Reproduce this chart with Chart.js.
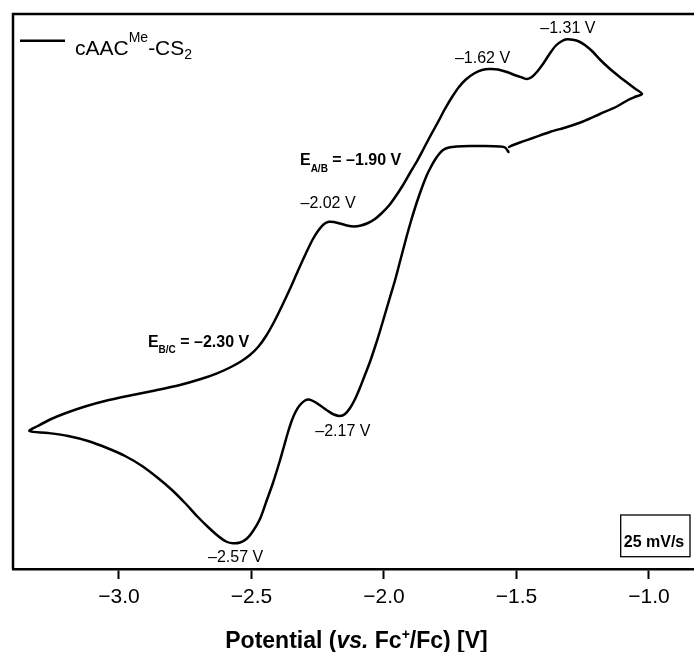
<!DOCTYPE html>
<html><head><meta charset="utf-8">
<script src="https://cdn.jsdelivr.net/npm/chart.js@4"></script>
<style>html,body{margin:0;padding:0;background:#fff}#wrap{width:694px;height:652px;position:relative}</style>
</head><body><div id="wrap"><canvas id="c" width="694" height="652"></canvas></div>
<script>
// Cyclic voltammogram of cAAC^Me-CS2, potential vs Fc+/Fc (V), current (arbitrary units, anodic up)
const potential = [
 -1.530,-1.543,-1.562,-1.626,-1.675,-1.725,-1.755,-1.777,-1.792,-1.808,-1.823,-1.838,-1.853,-1.868,-1.883,-1.898,-1.913,-1.928,-1.943,-1.958,-1.977,-1.996,-2.015,-2.034,-2.053,-2.072,-2.091,-2.109,-2.128,-2.147,-2.166,-2.189,-2.211,-2.238,-2.264,-2.283,-2.298,-2.317,-2.332,-2.347,-2.362,-2.377,-2.392,-2.419,-2.442,-2.468,-2.494,-2.517,-2.543,-2.570,-2.596,-2.626,-2.664,-2.706,-2.751,-2.800,-2.853,-2.913,-2.977,-3.045,-3.117,-3.192,-3.268,-3.338,
 -3.306,-3.260,-3.200,-3.128,-3.053,-2.958,-2.864,-2.770,-2.694,-2.630,-2.581,-2.540,-2.506,-2.475,-2.445,-2.415,-2.385,-2.355,-2.325,-2.294,-2.268,-2.245,-2.226,-2.208,-2.189,-2.166,-2.140,-2.113,-2.087,-2.060,-2.034,-2.008,-1.981,-1.955,-1.928,-1.902,-1.875,-1.849,-1.823,-1.796,-1.770,-1.743,-1.717,-1.691,-1.660,-1.630,-1.600,-1.570,-1.536,-1.502,-1.479,-1.460,-1.442,-1.423,-1.400,-1.374,-1.351,-1.328,-1.309,-1.287,-1.264,-1.242,-1.215,-1.185,-1.151,-1.117,-1.083,-1.053,-1.026,
 -1.049,-1.079,-1.121,-1.185,-1.249,-1.309,-1.374,-1.438,-1.487,-1.517,-1.528
];
const current = [
 14.8,15.25,15.35,15.4,15.4,15.35,15.25,15.0,14.6,14.0,13.3,12.5,11.5,10.4,9.2,7.9,6.5,5.0,3.5,2.0,0.3,-1.4,-3.1,-4.7,-6.2,-7.5,-8.8,-9.9,-10.8,-11.4,-11.6,-11.45,-11.1,-10.6,-10.15,-9.95,-10.05,-10.5,-11.1,-12.0,-13.2,-14.6,-16.0,-18.3,-20.0,-21.9,-23.1,-23.85,-24.25,-24.33,-24.15,-23.6,-22.7,-21.6,-20.3,-19.0,-17.8,-16.6,-15.6,-14.8,-14.1,-13.6,-13.3,-13.1,
 -12.6,-11.95,-11.3,-10.65,-10.1,-9.55,-9.05,-8.5,-7.93,-7.33,-6.75,-6.15,-5.5,-4.7,-3.6,-2.2,-0.6,1.1,2.9,4.7,6.1,7.05,7.6,7.82,7.8,7.65,7.45,7.35,7.45,7.7,8.1,8.7,9.45,10.4,11.5,12.7,13.9,15.2,16.5,17.8,19.1,20.3,21.3,22.05,22.65,23.0,23.1,23.05,22.8,22.45,22.25,22.1,22.3,22.8,23.6,24.65,25.45,25.9,26.07,26.02,25.85,25.5,24.9,24.05,23.2,22.45,21.75,21.15,20.6,
 20.35,20.0,19.35,18.6,17.85,17.3,16.8,16.2,15.75,15.45,15.3
];
const tickValues = [-3.0, -2.5, -2.0, -1.5, -1.0];
const tickLabels = ['\u22123.0', '\u22122.5', '\u22122.0', '\u22121.5', '\u22121.0'];
const peakLabels = ['\u20131.31 V', '\u20131.62 V', '\u20132.02 V', '\u20132.17 V', '\u20132.57 V'];
const peakX = [-1.306, -1.628, -2.211, -2.155, -2.560];
const peakY = [26.67, 23.67, 9.2, -13.6, -26.23];
const halfWaveNames = ['A/B', 'B/C'];
const halfWaveValues = [' = \u20131.90 V', ' = \u20132.30 V'];
const halfWaveX = [-2.317, -2.891];
const halfWaveY = [13.5, -4.67];
const scanRate = '25 mV/s';

const FONT = '"Liberation Sans", Arial, Helvetica, sans-serif';

function drawRich(ctx, segs, x, y, align) {
  let w = 0;
  segs.forEach(s => { ctx.font = s.font; w += ctx.measureText(s.t).width; });
  let cx = align === 'center' ? x - w / 2 : x;
  ctx.textAlign = 'left';
  ctx.textBaseline = 'alphabetic';
  segs.forEach(s => {
    ctx.font = s.font;
    ctx.fillText(s.t, cx, y + (s.dy || 0));
    cx += ctx.measureText(s.t).width;
  });
}

const overlay = {
  id: 'overlay',
  afterDraw(chart) {
    const { ctx, chartArea: a, scales: { x, y } } = chart;
    ctx.save();
    ctx.strokeStyle = '#000';
    ctx.fillStyle = '#000';
    // frame: left and top
    ctx.lineWidth = 2.5;
    ctx.beginPath();
    ctx.moveTo(a.left, a.bottom);
    ctx.lineTo(a.left, a.top);
    ctx.lineTo(a.right + 2, a.top);
    ctx.stroke();
    // legend
    ctx.beginPath();
    ctx.moveTo(a.left + 7, a.top + 26.7);
    ctx.lineTo(a.left + 52, a.top + 26.7);
    ctx.stroke();
    drawRich(ctx, [
      { t: 'cAAC', font: '21px ' + FONT },
      { t: 'Me', font: '14px ' + FONT, dy: -13 },
      { t: '-CS', font: '21px ' + FONT },
      { t: '2', font: '14px ' + FONT, dy: 4 }
    ], a.left + 62, a.top + 41, 'left');
    // peak labels
    ctx.font = '16px ' + FONT;
    ctx.textAlign = 'center';
    ctx.textBaseline = 'alphabetic';
    peakLabels.forEach((t, i) => ctx.fillText(t, x.getPixelForValue(peakX[i]), y.getPixelForValue(peakY[i])));
    // half-wave potentials
    halfWaveNames.forEach((n, i) => {
      drawRich(ctx, [
        { t: 'E', font: 'bold 16px ' + FONT },
        { t: n, font: 'bold 10px ' + FONT, dy: 6.5 },
        { t: halfWaveValues[i], font: 'bold 16px ' + FONT }
      ], x.getPixelForValue(halfWaveX[i]), y.getPixelForValue(halfWaveY[i]), 'left');
    });
    // scan rate box
    ctx.lineWidth = 1.3;
    ctx.strokeRect(a.right - 73.3, a.bottom - 54, 69.3, 41.7);
    ctx.font = 'bold 16px ' + FONT;
    ctx.textAlign = 'center';
    ctx.fillText(scanRate, a.right - 40, a.bottom - 22.3);
    // axis title
    const tf = 'bold 23px ' + FONT;
    drawRich(ctx, [
      { t: 'Potential (', font: tf },
      { t: 'vs.', font: 'italic ' + tf },
      { t: ' Fc', font: tf },
      { t: '+', font: 'bold 14px ' + FONT, dy: -9 },
      { t: '/Fc) [V]', font: tf }
    ], (a.left + a.right) / 2 + 3, a.bottom + 79.3, 'center');
    ctx.restore();
  }
};

new Chart(document.getElementById('c'), {
  type: 'scatter',
  data: {
    datasets: [{
      label: 'cAACMe-CS2',
      data: potential.map((v, i) => ({ x: v, y: current[i] })),
      showLine: true,
      borderColor: '#000',
      borderWidth: 2.5,
      borderJoinStyle: 'round',
      borderCapStyle: 'round',
      pointRadius: 0,
      tension: 0.3,
      fill: false
    }]
  },
  options: {
    responsive: false,
    animation: false,
    devicePixelRatio: 1,
    layout: { padding: { left: 13, top: 14, right: 0, bottom: 0 } },
    plugins: { legend: { display: false }, tooltip: { enabled: false } },
    scales: {
      x: {
        type: 'linear', min: -3.40, max: -0.83,
        afterBuildTicks: s => { s.ticks = tickValues.map(v => ({ value: v })); },
        afterFit: s => { s.height = 83; },
        grid: { drawOnChartArea: false, drawTicks: true, tickLength: 10, tickWidth: 2, tickColor: '#000' },
        border: { display: true, color: '#000', width: 2.5 },
        ticks: { color: '#000', font: { family: FONT, size: 21 }, padding: 6, maxRotation: 0, autoSkip: false,
                 callback: (v, i) => tickLabels[i] }
      },
      y: { display: false, min: -26.9, max: 28.6 }
    }
  },
  plugins: [overlay]
});
</script>
</body></html>
